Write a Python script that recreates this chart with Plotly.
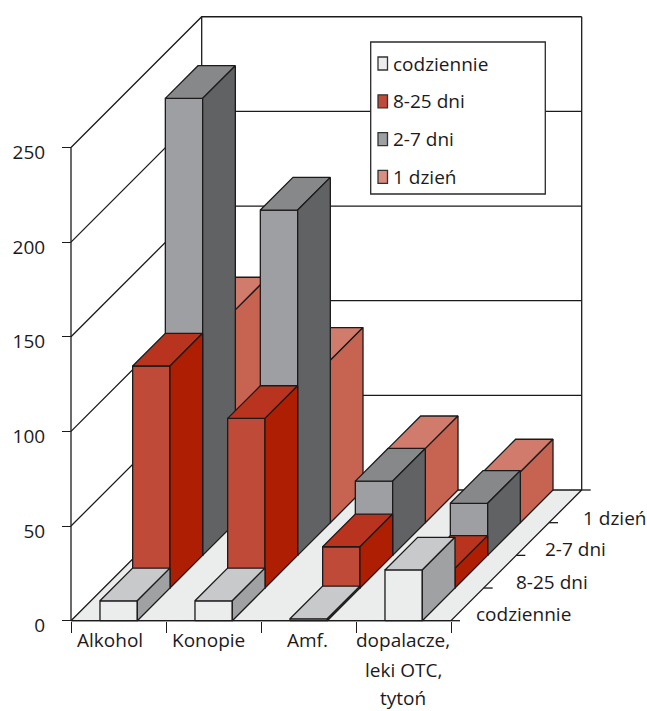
import plotly.graph_objects as go

# Survey counts per substance and per frequency of use
categories = ["Alkohol", "Konopie", "Amf.", "dopalacze,"]
extra_label_lines = [("leki OTC,", 670), ("tytoń", 698)]
series_names = ["codziennie", "8-25 dni", "2-7 dni", "1 dzień"]
codziennie = [10.5, 10.5, 1, 26.8]
dni_8_25 = [117.3, 89.6, 21.8, 10.4]
dni_2_7 = [241.4, 182.4, 39.2, 27.5]
dzien_1 = [112.4, 85.8, 39.1, 26.8]
series_values = [codziennie, dni_8_25, dni_2_7, dzien_1]
value_ticks = [0, 50, 100, 150, 200, 250]

# Face colours per series: front, top, side
palette = [
    ("#EBEDEC", "#C8C9CB", "#A0A1A3"),
    ("#BE4A37", "#B9341E", "#AE1E03"),
    ("#9E9FA2", "#87888A", "#616264"),
    ("#C96553", "#D17B6D", "#C76351"),
]
legend_swatches = ["#EBEDEC", "#BE4A37", "#9E9FA2", "#DB8D80"]

W, H = 647, 711
X0, Y0 = 71.0, 620.7      # page position of the chart origin
CAT_PX = 95.0             # pixels per category
VAL_PX = 1.893            # pixels per value unit
DEPTH_PX = 130.7 / 4      # oblique shift per series, both directions
BAR_OFFSET, BAR_WIDTH = 0.305, 0.393
INK = "#1c1a1b"
LW = 1.3
FONT = "Open Sans"
FS = 19


def project(cat, depth, val):
    """Oblique projection of (category, series depth, value) onto the 2D axes."""
    return cat + depth * DEPTH_PX / CAT_PX, val + depth * DEPTH_PX / VAL_PX


def polygon(points, fill, name):
    xs, ys = zip(*[project(*p) for p in points + points[:1]])
    return go.Scatter(
        x=xs, y=ys, mode="lines", fill="toself", fillcolor=fill, name=name,
        line=dict(color=INK, width=LW), hoverinfo="name", showlegend=False,
    )


def edge(points, width=LW):
    xs, ys = zip(*[project(*p) for p in points])
    return go.Scatter(
        x=xs, y=ys, mode="lines", line=dict(color=INK, width=width),
        hoverinfo="skip", showlegend=False,
    )


fig = go.Figure()
N = len(categories)
D = len(series_names)
TOP = value_ticks[-1]

# Floor and walls
fig.add_trace(polygon([(0, 0, 0), (N, 0, 0), (N, D, 0), (0, D, 0)], "#EBEDEC", "floor"))
for v in value_ticks[1:]:
    fig.add_trace(edge([(0, 0, v), (0, D, v), (N, D, v)]))
fig.add_trace(edge([(0, 0, 0), (0, 0, TOP)]))
fig.add_trace(edge([(0, D, 0), (0, D, TOP)]))
fig.add_trace(edge([(N, D, 0), (N, D, TOP)]))
fig.add_trace(edge([(0, 0, 0), (N, 0, 0)]))

# Depth-axis tick marks, running right from the floor edge
TICK_CAT = 9 / CAT_PX
for d in range(D + 1):
    fig.add_trace(edge([(N, d, 0), (N + TICK_CAT, d, 0)]))

# Bars, painted back to front
for d in range(D - 1, -1, -1):
    front, top, side = palette[d]
    for c, v in enumerate(series_values[d]):
        l, r = c + BAR_OFFSET, c + BAR_OFFSET + BAR_WIDTH
        label = f"{series_names[d]} – {categories[c]}"
        fig.add_trace(polygon([(l, d, 0), (r, d, 0), (r, d, v), (l, d, v)], front, label))
        fig.add_trace(polygon([(l, d, v), (r, d, v), (r, d + 1, v), (l, d + 1, v)], top, label))
        fig.add_trace(polygon([(r, d, 0), (r, d + 1, 0), (r, d + 1, v), (r, d, v)], side, label))

annotations = []


def page_text(text, px, py, anchor="center"):
    annotations.append(dict(
        text=text, x=px / W, y=1 - py / H, xref="paper", yref="paper",
        xanchor=anchor, yanchor="middle", showarrow=False,
        font=dict(family=FONT, size=FS, color=INK),
    ))


# Category labels
for text, px in zip(categories, [110, 209, 307, 403]):
    page_text(text, px, 640)
for text, py in extra_label_lines:
    page_text(text, 403, py)

# Series labels beside the depth axis
for text, px, py in zip(series_names, [474, 514, 543, 581], [614, 581.7, 549, 518]):
    page_text(text, px, py, "left")

# Legend box with swatches
shapes = [dict(
    type="rect", xref="paper", yref="paper",
    x0=370.7 / W, x1=545.3 / W, y0=1 - 194 / H, y1=1 - 42 / H,
    fillcolor="white", line=dict(color="#2a2a2a", width=LW), layer="above",
)]
for i, (name, colour) in enumerate(zip(series_names, legend_swatches)):
    py = 63.5 + i * 37.8
    page_text(name, 391, py, "left")
    shapes.append(dict(
        type="rect", xref="paper", yref="paper",
        x0=378 / W, x1=387.5 / W, y0=1 - (py + 6.5) / H, y1=1 - (py - 6.5) / H,
        fillcolor=colour, line=dict(color="#333333", width=1.3), layer="above",
    ))

fig.update_layout(
    width=W, height=H, margin=dict(l=0, r=0, t=0, b=0),
    paper_bgcolor="white", plot_bgcolor="white", showlegend=False,
    font=dict(family=FONT, size=FS, color=INK),
    shapes=shapes, annotations=annotations,
    xaxis=dict(
        range=[-X0 / CAT_PX, (W - X0) / CAT_PX], domain=[0, 1],
        anchor="free", position=1 - Y0 / H,
        tickvals=list(range(N + 1)), ticks="outside", ticklen=11, tickwidth=LW, tickcolor=INK,
        showticklabels=False, showgrid=False, zeroline=False, showline=False,
    ),
    yaxis=dict(
        range=[-(H - Y0) / VAL_PX, Y0 / VAL_PX], domain=[0, 1],
        anchor="free", position=X0 / W,
        tickvals=value_ticks, ticks="outside", ticklen=9, tickwidth=LW, tickcolor=INK,
        ticklabelshift=5, ticklabelstandoff=13,
        showgrid=False, zeroline=False, showline=False,
    ),
)

fig.write_html("out.html")
